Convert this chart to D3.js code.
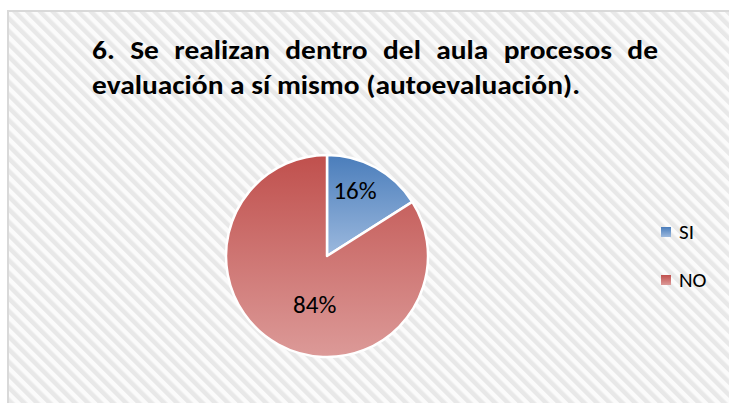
<!DOCTYPE html>
<html>
<head>
<meta charset="utf-8">
<script src="https://cdn.jsdelivr.net/npm/d3@7"></script>
<style>
  body { margin: 0; background: #fff; }
  svg { display: block; }
</style>
</head>
<body>
<div id="chart"></div>
<script>
const categories = ["SI", "NO"];
const values = [16, 84];
const valueLabels = ["16%", "84%"];
const titleLine1 = ["6.", "Se", "realizan", "dentro", "del", "aula", "procesos", "de"];
const titleLine2 = "evaluación a sí mismo (autoevaluación).";
const colorsTop = ["#4a7dbb", "#c0504d"];
const colorsBottom = ["#9cb9de", "#dc9a98"];

const width = 729, height = 403;
const font = "Carlito, Calibri, Lato, 'Open Sans', sans-serif";

const svg = d3.select("#chart").append("svg")
  .attr("width", width)
  .attr("height", height);

const defs = svg.append("defs");

// striped background
const pat = defs.append("pattern")
  .attr("id", "stripes")
  .attr("patternUnits", "userSpaceOnUse")
  .attr("width", 9).attr("height", 9)
  .attr("patternTransform", "rotate(-45)");
pat.append("rect").attr("width", 9).attr("height", 9).attr("fill", "#fbfbfb");
pat.append("rect").attr("width", 4.5).attr("height", 9).attr("fill", "#e8e8e8");

categories.forEach((c, i) => {
  const g = defs.append("linearGradient")
    .attr("id", "grad" + i)
    .attr("x1", 0).attr("y1", 0).attr("x2", 0).attr("y2", 1);
  g.append("stop").attr("offset", "0%").attr("stop-color", colorsTop[i]);
  g.append("stop").attr("offset", "100%").attr("stop-color", colorsBottom[i]);
});

// chart area + border
svg.append("rect")
  .attr("x", 8).attr("y", 11)
  .attr("width", width + 10).attr("height", height)
  .attr("fill", "url(#stripes)")
  .attr("stroke", "#d9d9d9")
  .attr("stroke-width", 2);

// title, justified first line
const titleSize = 26;
const tx0 = 92, tx1 = 658;
const title = svg.append("g")
  .attr("font-family", font)
  .attr("font-weight", "bold")
  .attr("font-size", titleSize)
  .attr("fill", "#000");

// second line sets the horizontal stretch
const l2 = title.append("text").attr("x", tx0).attr("y", 94).text(titleLine2);
const l2w = l2.node().getComputedTextLength();
const stretch = 488 / l2w;
l2.attr("textLength", l2w * stretch).attr("lengthAdjust", "spacingAndGlyphs");

const words = titleLine1.map(w => {
  const t = title.append("text").attr("y", 59).text(w);
  const wd = t.node().getComputedTextLength() * stretch;
  t.attr("textLength", wd).attr("lengthAdjust", "spacingAndGlyphs");
  return { t, wd };
});
const total = d3.sum(words, d => d.wd);
const gap = (tx1 - tx0 - total) / (words.length - 1);
let cx = tx0;
words.forEach(d => { d.t.attr("x", cx); cx += d.wd + gap; });

// pie
const cxPie = 327, cyPie = 256, r = 101;
const pie = d3.pie().sort(null).value(d => d);
const arcs = pie(values);
const arc = d3.arc().innerRadius(0).outerRadius(r);

const gPie = svg.append("g").attr("transform", `translate(${cxPie},${cyPie})`);
gPie.selectAll("path")
  .data(arcs)
  .join("path")
  .attr("d", arc)
  .attr("fill", (d, i) => `url(#grad${i})`)
  .attr("stroke", "#fff")
  .attr("stroke-width", 2.5)
  .attr("stroke-linejoin", "round");

const labelR = [0.72, 0.5];
const labelShift = [[-7, -2], [12, 4]];
gPie.selectAll("text")
  .data(arcs)
  .join("text")
  .attr("transform", (d, i) => {
    const a = d3.arc().innerRadius(r * labelR[i] * 2).outerRadius(0);
    const [x, y] = a.centroid(d);
    return `translate(${x + labelShift[i][0]},${y + labelShift[i][1]})`;
  })
  .attr("text-anchor", "middle")
  .attr("dominant-baseline", "central")
  .attr("font-family", font)
  .attr("font-size", 25)
  .attr("fill", "#000")
  .text((d, i) => valueLabels[i]);

// legend
const legY = d3.scalePoint().domain(categories).range([232, 280]);
const leg = svg.append("g").attr("font-family", font).attr("font-size", 21);
leg.selectAll("rect")
  .data(categories)
  .join("rect")
  .attr("x", 661)
  .attr("y", d => legY(d) - 5)
  .attr("width", 10).attr("height", 10)
  .attr("fill", (d, i) => `url(#grad${i})`);
leg.selectAll("text")
  .data(categories)
  .join("text")
  .attr("x", 679)
  .attr("y", d => legY(d))
  .attr("dominant-baseline", "central")
  .attr("fill", "#000")
  .text(d => d);
</script>
</body>
</html>
